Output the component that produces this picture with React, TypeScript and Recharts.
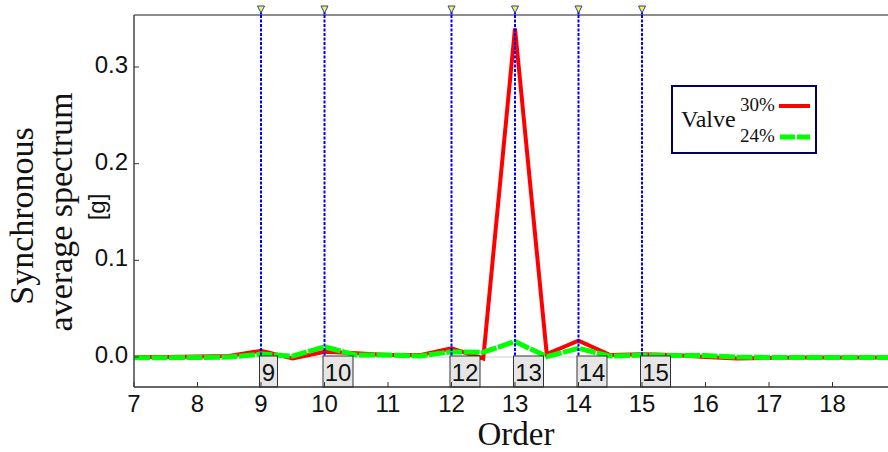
import React from 'react';
import { LineChart, Line, XAxis, YAxis, ReferenceLine, Legend } from 'recharts';

// Spectrum sampled every half order
const orders = [7, 7.5, 8, 8.5, 9, 9.5, 10, 10.5, 11, 11.5, 12, 12.5, 13, 13.5, 14, 14.5, 15, 15.5, 16, 16.5, 17, 17.5, 18, 18.5, 19];
const valve30 = [0, 0, 0.0005, 0.001, 0.0065, -0.0015, 0.0055, 0.004, 0.002, 0.002, 0.009, -0.0015, 0.34, 0.003, 0.017, 0.002, 0.003, 0.002, 0, -0.0015, -0.001, -0.0005, -0.0005, -0.0005, -0.0005];
const valve24 = [-0.0007, -0.0007, -0.0005, 0, 0.003, 0.001, 0.0105, 0.002, 0.002, 0.001, 0.0055, 0.005, 0.016, 0.0005, 0.009, 0.001, 0.002, 0.0015, 0.0015, 0, -0.0005, -0.0005, -0.0005, -0.0005, -0.0005];

const xTicks = [7, 8, 9, 10, 11, 12, 13, 14, 15, 16, 17, 18];
const yTicks = [0, 0.1, 0.2, 0.3];
const markerOrders = [9, 10, 12, 13, 14, 15];
const seriesNames = ['30%', '24%'];

const X_DOMAIN: [number, number] = [7, 18.874];
const Y_DOMAIN: [number, number] = [-0.031, 0.3538];

const data = orders.map((o, i) => ({ order: o, v30: valve30[i], v24: valve24[i] }));

const SANS = '"Liberation Sans", Arial, sans-serif';
const SERIF = '"Liberation Serif", "Times New Roman", serif';

const XTick = (props: any) => {
  const { x, y, payload } = props;
  return (
    <g>
      <line x1={x} x2={x} y1={y} y2={y - 5} stroke="#333" strokeWidth={1} />
      <text x={x} y={y + 25} textAnchor="middle" fontFamily={SANS} fontSize={24} fill="#111">
        {payload.value}
      </text>
    </g>
  );
};

const YTick = (props: any) => {
  const { x, y, payload } = props;
  return (
    <g>
      <line x1={x} x2={x + 5} y1={y} y2={y} stroke="#333" strokeWidth={1} />
      <text x={x - 6} y={y + 6} textAnchor="end" fontFamily={SANS} fontSize={24} fill="#111">
        {Number(payload.value).toFixed(1)}
      </text>
    </g>
  );
};

const YTitle = () => (
  <g fill="#111">
    <text transform="translate(33,216) rotate(-90)" textAnchor="middle" fontFamily={SERIF} fontSize={34}>
      Synchronous
    </text>
    <text transform="translate(72,212) rotate(-90)" textAnchor="middle" fontFamily={SERIF} fontSize={34}>
      average spectrum
    </text>
    <text transform="translate(105,207) rotate(-90)" textAnchor="middle" fontFamily={SANS} fontSize={24}>
      [g]
    </text>
  </g>
);

const XTitle = () => (
  <text x={516} y={445} textAnchor="middle" fontFamily={SERIF} fontSize={33} fill="#111">
    Order
  </text>
);

// Harmonic marker: triangle above the frame, numbered tag at the bottom
const markerLabel = (order: number) => (props: any) => {
  const { viewBox } = props;
  const x = viewBox.x;
  const top = viewBox.y;
  const bottom = viewBox.y + viewBox.height;
  const txt = String(order);
  const w = txt.length > 1 ? 30 : 18;
  return (
    <g>
      <line x1={x} x2={x} y1={top - 8} y2={top} stroke="#0000ff" strokeWidth={2} strokeDasharray="3 1.5" />
      <path d={`M${x - 3.5},${top - 9} L${x + 3.5},${top - 9} L${x},${top - 2} Z`} fill="#ffff00" stroke="#2233ff" strokeWidth={1} />
      <rect x={x - 1.5} y={bottom - 31} width={w} height={31} fill="#e6e6e6" stroke="#333" strokeWidth={1} />
      <text x={x - 1.5 + w / 2} y={bottom - 6} textAnchor="middle" fontFamily={SANS} fontSize={24} fill="#111">
        {txt}
      </text>
    </g>
  );
};

const LegendBox = () => (
  <svg width={146} height={69} style={{ display: 'block' }}>
    <rect x={1} y={1} width={144} height={67} fill="#fff" stroke="#000066" strokeWidth={2} />
    <text x={10} y={42} fontFamily={SERIF} fontSize={24} fill="#111">Valve</text>
    <text x={69} y={26} fontFamily={SERIF} fontSize={19} fill="#111">{seriesNames[0]}</text>
    <line x1={108} x2={139} y1={21} y2={21} stroke="#ff0000" strokeWidth={4} />
    <text x={69} y={57} fontFamily={SERIF} fontSize={19} fill="#111">{seriesNames[1]}</text>
    <line x1={109} x2={139} y1={52} y2={52} stroke="#00ff00" strokeWidth={5} strokeDasharray="15 2" />
  </svg>
);

export default function App() {
  return (
    <div style={{ position: 'absolute', left: 0, top: 0, width: 888, height: 452, background: '#fff' }}>
      <LineChart width={888} height={452} data={data} margin={{ top: 15, right: 0, bottom: 35, left: 74 }}>
        <XAxis
          dataKey="order"
          type="number"
          domain={X_DOMAIN}
          allowDataOverflow
          ticks={xTicks}
          interval={0}
          tickSize={0}
          tickMargin={0}
          tickLine={false}
          tick={<XTick />}
          height={30}
          axisLine={{ stroke: '#333', strokeWidth: 1.5 }}
          label={<XTitle />}
        />
        <YAxis
          type="number"
          domain={Y_DOMAIN}
          allowDataOverflow
          ticks={yTicks}
          interval={0}
          tickSize={0}
          tickMargin={0}
          tickLine={false}
          tick={<YTick />}
          width={60}
          axisLine={{ stroke: '#444', strokeWidth: 1.5 }}
          label={<YTitle />}
        />
        <ReferenceLine y={0} stroke="#d0d0d0" strokeWidth={1} />
        <ReferenceLine y={Y_DOMAIN[1]} stroke="#8c8c8c" strokeWidth={2} />
        <Line type="linear" dataKey="v30" stroke="#ff0000" strokeWidth={4} dot={false} isAnimationActive={false} />
        <Line type="linear" dataKey="v24" stroke="#00ff00" strokeWidth={5} strokeDasharray="16 1.5" dot={false} isAnimationActive={false} />
        {markerOrders.map((o) => (
          <ReferenceLine
            key={o}
            x={o}
            stroke="#0000ff"
            strokeWidth={2}
            strokeDasharray="3 1.5"
            label={markerLabel(o)}
          />
        ))}
        <Legend
          layout="vertical"
          align="center"
          verticalAlign="middle"
          content={<LegendBox />}
          wrapperStyle={{ position: 'absolute', left: 671, top: 85, width: 146, height: 69 }}
        />
      </LineChart>
    </div>
  );
}
